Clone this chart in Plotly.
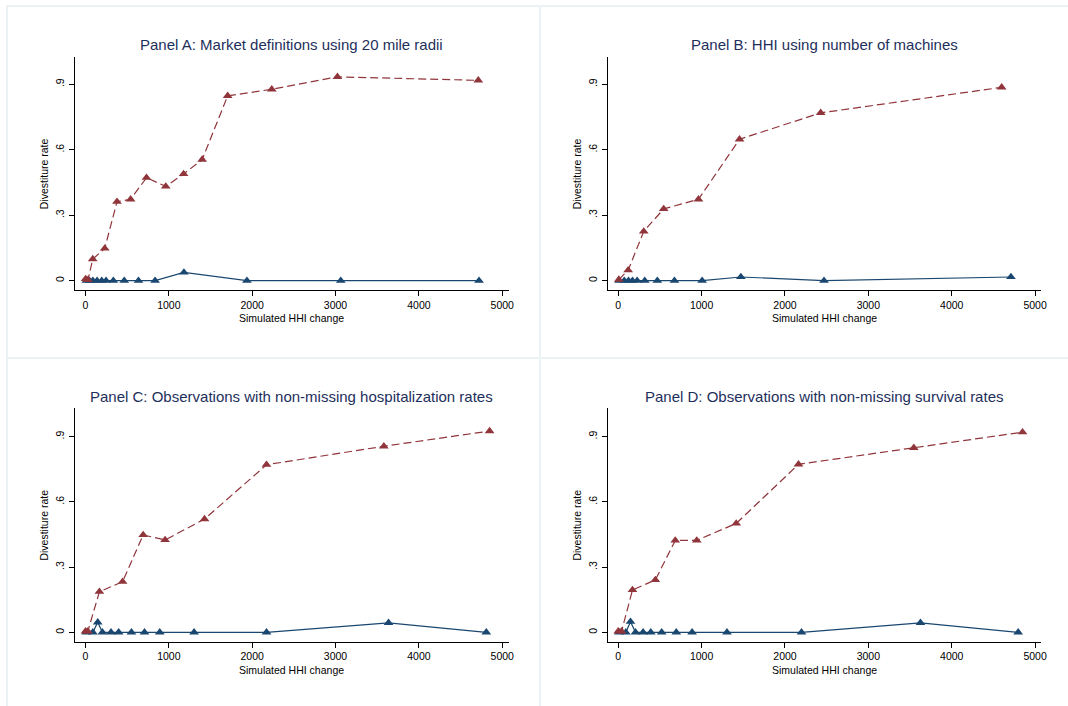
import plotly.graph_objects as go

# Divestiture rate against simulated HHI change, four market definitions.
# Each panel: a treated series (red, dashed) and a placebo series (blue, solid).

a_red_x = [2, 30, 87, 231, 378, 541, 732, 963, 1177, 1400, 1706, 2235, 3023, 4713]
a_red_y = [0.008, 0.004, 0.099, 0.148, 0.362, 0.373, 0.472, 0.432, 0.489, 0.555, 0.847, 0.877, 0.934, 0.918]
a_blue_x = [10, 48, 88, 139, 195, 247, 334, 465, 636, 835, 1181, 1937, 3063, 4722]
a_blue_y = [0, 0, 0, 0, 0, 0, 0, 0, 0, 0, 0.038, 0, 0, 0]

b_red_x = [7, 119, 306, 545, 962, 1455, 2428, 4599]
b_red_y = [0.005, 0.048, 0.226, 0.329, 0.373, 0.648, 0.769, 0.886]
b_blue_x = [10, 72, 123, 171, 227, 318, 469, 674, 1006, 1471, 2468, 4710]
b_blue_y = [0, 0, 0, 0, 0, 0, 0, 0, 0, 0.017, 0, 0.017]

c_red_x = [0, 28, 167, 445, 692, 955, 1428, 2172, 3580, 4849]
c_red_y = [0.005, 0.005, 0.187, 0.233, 0.448, 0.425, 0.521, 0.771, 0.856, 0.926]
c_blue_x = [10, 88, 147, 203, 306, 398, 551, 708, 891, 1303, 2172, 3636, 4809]
c_blue_y = [0, 0, 0.046, 0, 0, 0, 0, 0, 0, 0, 0, 0.044, 0]

d_red_x = [0, 40, 171, 445, 684, 942, 1415, 2162, 3545, 4849]
d_red_y = [0.005, 0.005, 0.195, 0.241, 0.423, 0.423, 0.501, 0.773, 0.849, 0.921]
d_blue_x = [10, 91, 147, 207, 298, 390, 521, 696, 886, 1304, 2198, 3625, 4797]
d_blue_y = [0, 0, 0.049, 0, 0, 0, 0, 0, 0, 0, 0, 0.044, 0]

panel_titles = [
    "Panel A: Market definitions using 20 mile radii",
    "Panel B: HHI using number of machines",
    "Panel C: Observations with non-missing hospitalization rates",
    "Panel D: Observations with non-missing survival rates",
]
x_ticks = [0, 1000, 2000, 3000, 4000, 5000]
x_tick_text = ["0", "1000", "2000", "3000", "4000", "5000"]
y_ticks = [0, 0.3, 0.6, 0.9]
y_tick_text = ["0", ".3", ".6", ".9"]
x_title = "Simulated HHI change"
y_title = "Divestiture rate"

RED = "#90353b"
BLUE = "#1a476f"
TITLE_C = "#1e2f5c"
FONT = "Liberation Sans, Arial, sans-serif"
W, H = 1068, 706

panels = [
    (a_red_x, a_red_y, a_blue_x, a_blue_y),
    (b_red_x, b_red_y, b_blue_x, b_blue_y),
    (c_red_x, c_red_y, c_blue_x, c_blue_y),
    (d_red_x, d_red_y, d_blue_x, d_blue_y),
]

# plot-area boxes in pixels: (left, right, top, bottom) and axis ranges
boxes = [
    (75, 512, 57, 290, [-131, 5083], [-0.0426, 1.025]),
    (611, 1047, 57, 290, [-128, 5072], [-0.0426, 1.025]),
    (75, 512, 408, 641.7, [-131, 5083], [-0.043, 1.032]),
    (611, 1047, 408, 641.7, [-128, 5072], [-0.043, 1.032]),
]

fig = go.Figure()
layout = dict(
    width=W, height=H,
    margin=dict(l=0, r=0, t=0, b=0),
    paper_bgcolor="white", plot_bgcolor="white",
    showlegend=False,
    font=dict(family=FONT, size=10, color="black"),
)
annotations = []
shapes = []

for i, ((rx, ry, bx, by), (l, r, t, b, xr, yr)) in enumerate(zip(panels, boxes)):
    n = "" if i == 0 else str(i + 1)
    xa, ya = "x" + n, "y" + n
    fig.add_trace(go.Scatter(
        x=bx, y=by, xaxis=xa, yaxis=ya, mode="lines+markers",
        line=dict(color=BLUE, width=1.2),
        marker=dict(symbol="triangle-up", size=8.5, color=BLUE),
        cliponaxis=False,
    ))
    fig.add_trace(go.Scatter(
        x=rx, y=ry, xaxis=xa, yaxis=ya, mode="lines+markers",
        line=dict(color=RED, width=1.2, dash="8px,4px"),
        marker=dict(symbol="triangle-up", size=8.5, color=RED),
        cliponaxis=False,
    ))
    layout["xaxis" + n] = dict(
        domain=[l / W, r / W], anchor=ya, range=xr,
        showgrid=False, zeroline=False, showline=True, linecolor="black", linewidth=1,
        ticks="outside", ticklen=5, tickcolor="black", tickwidth=1,
        tickvals=x_ticks, ticktext=x_tick_text,
        tickfont=dict(size=10.5, color="black"),
    )
    layout["yaxis" + n] = dict(
        domain=[1 - b / H, 1 - t / H], anchor=xa, range=yr,
        showgrid=False, zeroline=False, showline=True, linecolor="black", linewidth=1,
        ticks="outside", ticklen=5, tickcolor="black", tickwidth=1,
        tickvals=y_ticks, ticktext=y_tick_text, tickangle=-90,
        tickfont=dict(size=10.5, color="black"),
    )
    cx = (l + r) / 2
    annotations.append(dict(
        text=panel_titles[i], x=cx / W, y=1 - (t - 12) / H, xref="paper", yref="paper",
        xanchor="center", yanchor="middle", showarrow=False,
        font=dict(size=15, color=TITLE_C, family=FONT),
    ))
    annotations.append(dict(
        text=x_title, x=cx / W, y=1 - (b + 28) / H, xref="paper", yref="paper",
        xanchor="center", yanchor="middle", showarrow=False,
        font=dict(size=10.5, color="black", family=FONT),
    ))
    annotations.append(dict(
        text=y_title, x=(l - 31) / W, y=1 - ((t + b) / 2) / H, xref="paper", yref="paper",
        xanchor="center", yanchor="middle", showarrow=False, textangle=-90,
        font=dict(size=10.5, color="black", family=FONT),
    ))

# light frames around the four panels
GRID_C = "#ebf2f3"
for (x0, y0, x1, y1) in [(7, 6, 543, 358), (543, 6, 1075, 358), (7, 358, 543, 712), (543, 358, 1075, 712)]:
    shapes.append(dict(
        type="rect", xref="paper", yref="paper",
        x0=x0 / W, x1=x1 / W, y0=1 - y1 / H, y1=1 - y0 / H,
        line=dict(color=GRID_C, width=2), layer="below",
    ))

layout["annotations"] = annotations
layout["shapes"] = shapes
fig.update_layout(**layout)
fig.write_html("out.html")
